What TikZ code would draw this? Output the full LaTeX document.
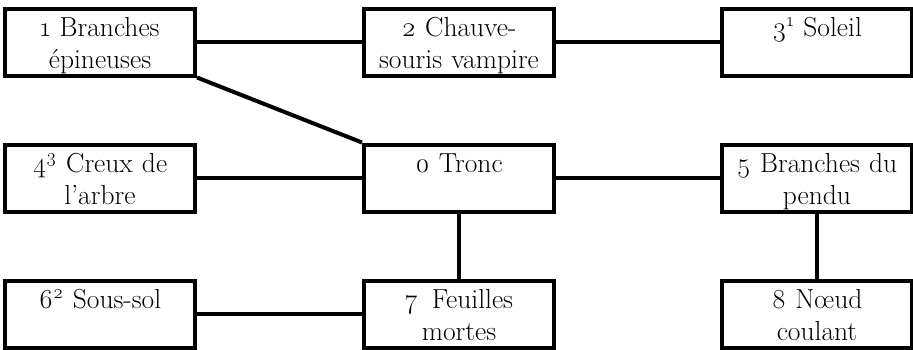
\documentclass[tikz,border=0pt]{standalone}
\usepackage{fontspec}
\setmainfont{Latin Modern Roman}[Numbers=OldStyle]
\begin{document}
\begin{tikzpicture}[x=1pt,y=-1pt,
  boxnode/.style={draw=black, line width=4pt, fill=white, minimum width=190pt, minimum height=67pt, inner sep=0pt},
  lbl/.style={anchor=base, text width=186pt, align=center, inner sep=0pt, font=\fontsize{27.5}{32}\selectfont},
  conn/.style={line width=4pt}]
\useasboundingbox (0,0) rectangle (913,349);
% boxes
\node[boxnode] (n1) at (100,42) {};
\node[boxnode] (n2) at (459,42) {};
\node[boxnode] (n3) at (817,42) {};
\node[boxnode] (n4) at (100,178) {};
\node[boxnode] (n0) at (459,178) {};
\node[boxnode] (n5) at (817,178) {};
\node[boxnode] (n6) at (100,314) {};
\node[boxnode] (n7) at (459,314) {};
\node[boxnode] (n8) at (817,314) {};
% connectors
\draw[conn] (n1.east) -- (n2.west);
\draw[conn] (n2.east) -- (n3.west);
\draw[conn] (n1.south east) -- (n0.north west);
\draw[conn] (n4.east) -- (n0.west);
\draw[conn] (n0.east) -- (n5.west);
\draw[conn] (n0.south) -- (n7.north);
\draw[conn] (n5.south) -- (n8.north);
\draw[conn] (n6.east) -- (n7.west);
% labels
\node[lbl] (t1) at ([yshift=-29.5pt]n1.north) {1 Branches\\épineuses};
\node[lbl] (t2) at ([yshift=-29.5pt]n2.north) {2 Chauve-\\souris vampire};
\node[lbl] (t3) at ([yshift=-29.5pt]n3.north) {3\textsuperscript{1} Soleil};
\node[lbl] (t4) at ([yshift=-29.5pt]n4.north) {4\textsuperscript{3} Creux de\\l’arbre};
\node[lbl] (t0) at ([yshift=-29.5pt]n0.north) {0 Tronc};
\node[lbl] (t5) at ([yshift=-29.5pt]n5.north) {5 Branches du\\pendu};
\node[lbl] (t6) at ([yshift=-29.5pt]n6.north) {6\textsuperscript{2} Sous-sol};
\node[lbl] (t7) at ([yshift=-29.5pt]n7.north) {7\enspace Feuilles\\mortes};
\node[lbl] (t8) at ([yshift=-29.5pt]n8.north) {8 Nœud\\coulant};
\end{tikzpicture}
\end{document}
